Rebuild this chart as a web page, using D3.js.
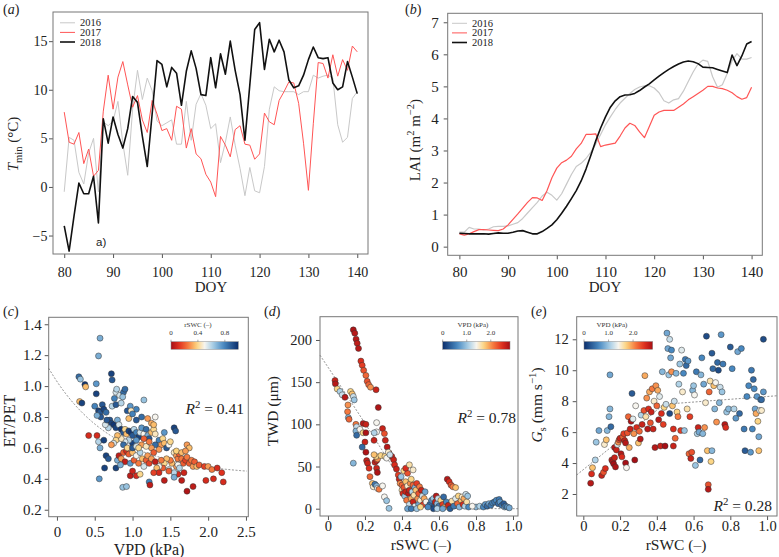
<!DOCTYPE html>
<html><head><meta charset="utf-8">
<script src="https://cdn.jsdelivr.net/npm/d3@7"></script>
<style>body{margin:0;background:#fff}</style>
</head><body>
<script>
// ---------------- DATA ----------------
const doy = d3.range(80, 141);
const tmin2016 = [-0.5,5.1,4.8,1.5,0.3,3.5,5.0,-0.5,6.7,6.3,6.8,8.8,4.5,1.2,8.0,12.0,9.0,11.2,9.9,6.8,6.3,6.6,6.9,4.4,4.4,8.8,4.8,8.5,9.6,8.4,6.0,6.5,2.5,4.6,7.2,4.3,1.9,-0.9,2.0,-0.4,-0.6,2.1,8.0,10.3,9.9,9.8,9.8,9.8,9.5,9.8,9.8,11.5,11.2,11.4,11.5,11.2,6.4,4.6,5.1,9.1,9.8];
const tmin2017 = [7.7,4.6,4.4,5.6,2.4,3.9,1.1,1.7,7.8,11.5,8.0,11.3,12.9,10.5,8.2,9.4,6.9,5.6,8.9,7.5,5.8,6.0,4.8,8.3,8.0,4.0,6.0,3.4,2.9,1.3,0.5,-1.0,5.2,4.3,3.1,5.9,6.3,4.4,4.3,2.85,3.4,7.6,6.7,6.4,8.9,9.8,10.8,10.7,8.6,4.5,-0.35,6.5,12.8,12.7,11.2,13.6,11.4,13.1,12.0,14.5,13.9];
const tmin2018 = [-4.0,-6.6,-3.0,0.4,-0.7,-0.7,1.1,-3.7,7.0,4.5,7.2,5.4,4.0,6.0,9.3,8.7,5.2,2.1,7.5,13.0,12.6,10.3,12.3,11.7,8.4,11.9,14.0,12.2,9.5,9.4,13.3,10.2,13.7,11.6,15.0,12.0,9.5,4.8,10.5,16.2,16.9,12.1,15.2,13.9,15.1,13.9,11.0,10.2,10.4,11.5,13.1,14.4,13.3,13.2,13.3,10.7,10.0,10.3,12.9,11.3,9.6];

const lai2016 = [0.45,0.45,0.60,0.55,0.55,0.52,0.55,0.62,0.63,0.63,0.65,0.70,0.75,0.88,1.05,1.22,1.38,1.58,1.70,1.60,1.45,1.65,1.95,2.25,2.50,2.60,2.75,2.95,3.20,3.50,3.80,4.05,4.28,4.48,4.63,4.78,4.90,4.98,5.02,5.02,4.95,4.80,4.55,4.48,4.58,4.62,4.85,5.15,5.45,5.70,5.82,5.78,5.30,4.97,5.05,5.40,5.80,6.02,5.85,5.85,5.90];
const lai2017 = [0.40,0.36,0.40,0.47,0.53,0.53,0.52,0.51,0.50,0.55,0.68,0.85,1.02,1.20,1.38,1.53,1.52,1.44,1.75,2.15,2.45,2.62,2.70,2.82,3.05,3.22,3.50,3.50,3.52,3.12,3.17,3.20,3.23,3.45,3.70,3.85,3.78,3.58,3.40,3.75,4.10,4.20,4.25,4.25,4.25,4.35,4.45,4.58,4.68,4.78,4.88,5.00,5.00,4.95,4.93,4.88,4.80,4.68,4.60,4.65,4.97];
const lai2018 = [0.42,0.41,0.40,0.40,0.40,0.40,0.39,0.41,0.43,0.42,0.42,0.45,0.49,0.50,0.45,0.40,0.40,0.47,0.57,0.68,0.84,1.04,1.26,1.50,1.75,2.05,2.42,2.85,3.30,3.70,4.05,4.35,4.55,4.68,4.73,4.74,4.78,4.87,4.98,5.08,5.20,5.32,5.43,5.53,5.62,5.70,5.76,5.79,5.77,5.71,5.60,5.59,5.58,5.53,5.48,5.43,5.98,5.65,5.95,6.32,6.40];

const years = ["2016","2017","2018"];

// panel c: [VPD, ET/PET, rSWC]
const ptsC = [[0.57,1.31,0.7],[0.55,1.195,0.7],
[0.29,1.06,0.85],[0.31,1.045,0.65],[0.37,1.01,0.98],[0.38,0.995,0.35],[0.30,0.90,0.35],[0.33,0.89,0.95],
[0.52,1.015,0.75],[0.52,0.95,0.95],[0.50,0.87,0.8],[0.55,0.84,0.95],[0.57,0.83,0.9],[0.60,0.88,0.9],[0.62,0.85,0.95],[0.58,0.80,0.9],[0.53,0.81,0.7],[0.65,0.83,0.85],
[0.72,1.08,0.95],[0.73,1.04,0.9],[0.76,0.92,0.8],[0.73,0.87,0.6],[0.78,0.88,0.9],[0.78,0.96,0.55],[0.79,0.98,0.6],[0.83,0.94,0.55],[0.88,0.96,0.85],[0.90,0.98,0.85],[0.87,0.93,0.65],[0.85,0.89,0.6],
[0.97,0.87,0.75],[1.05,0.85,0.8],[1.15,0.91,0.65],[0.93,0.84,0.9],[0.98,0.84,0.45],
[0.70,0.78,0.9],[0.72,0.76,0.95],[0.75,0.75,0.98],[0.78,0.73,0.95],[0.80,0.78,0.7],[0.82,0.75,0.55],[0.68,0.73,0.6],[0.64,0.75,0.55],[0.66,0.78,0.9],[0.85,0.72,0.98],[0.88,0.70,0.9],[0.90,0.72,0.4],[0.92,0.69,0.35],[0.95,0.71,0.95],[0.98,0.70,0.98],[1.00,0.68,0.9],[1.02,0.72,0.6],[1.05,0.70,0.8],[1.08,0.67,0.95],[1.10,0.70,0.55],[1.12,0.73,0.75],[1.15,0.69,0.5],[1.18,0.72,0.85],[1.20,0.68,0.7],[1.22,0.66,0.9],[1.25,0.70,0.35],[1.28,0.72,0.4],[1.30,0.69,0.45],[0.95,0.79,0.35],[1.00,0.82,0.8],[1.05,0.78,0.9],[1.12,0.80,0.85],[1.20,0.79,0.3],[1.25,0.76,0.32],[1.28,0.75,0.35],[1.30,0.80,0.5],[1.00,0.63,0.95],[1.05,0.65,0.75],[0.95,0.65,0.6],[0.90,0.64,0.55],[0.85,0.66,0.45],[0.80,0.68,0.35],[0.78,0.65,0.4],[0.75,0.63,0.55],[0.72,0.62,0.3],
[1.35,0.65,0.8],[1.38,0.62,0.3],[1.40,0.66,0.4],[1.42,0.63,0.35],[1.45,0.60,0.9],[1.48,0.62,0.5],[1.50,0.64,0.4],[1.35,0.59,0.3],[1.30,0.62,0.85],[1.25,0.60,0.3],[1.55,0.73,0.95],[1.57,0.71,0.9],[1.42,0.70,0.75],
[1.55,0.57,0.45],[1.58,0.55,0.3],[1.60,0.53,0.25],[1.62,0.56,0.2],[1.65,0.53,0.25],[1.67,0.50,0.2],[1.70,0.52,0.15],[1.72,0.54,0.25],[1.72,0.62,0.3],[1.75,0.60,0.35],[1.75,0.50,0.2],[1.78,0.52,0.25],[1.80,0.48,0.3],[1.82,0.51,0.2],[1.85,0.48,0.35],[1.88,0.49,0.2],[1.95,0.48,0.15],[2.00,0.48,0.3],[2.05,0.46,0.25],[2.12,0.47,0.1],[2.18,0.44,0.12],[2.20,0.38,0.1],[2.07,0.40,0.1],[1.97,0.39,0.1],[1.80,0.35,0.05],[1.72,0.32,0.02],[1.65,0.39,0.05],[1.60,0.43,0.1],[1.68,0.44,0.08],[1.58,0.48,0.3],[1.52,0.50,0.35],[1.50,0.52,0.25],[1.45,0.53,0.35],[1.42,0.50,0.4],[1.40,0.47,0.2],[1.35,0.48,0.5],[1.55,0.44,0.6],[1.55,0.41,0.7],[1.60,0.49,0.5],[1.62,0.47,0.6],[1.48,0.46,0.55],[1.58,0.58,0.38],[1.65,0.57,0.35],[1.70,0.58,0.3],
[0.42,0.68,0.1],[0.53,0.68,0.1],[0.55,0.64,0.6],[0.57,0.60,0.7],[0.62,0.65,0.95],[0.65,0.55,0.95],[0.68,0.53,0.9],[0.63,0.47,0.95],[0.56,0.40,0.75],[0.78,0.47,0.95],[0.80,0.52,0.7],[0.82,0.55,0.05],[0.85,0.53,0.3],[0.88,0.57,0.2],[0.90,0.51,0.05],[0.92,0.58,0.1],[0.95,0.56,0.2],[0.97,0.50,0.75],[1.00,0.57,0.35],[1.02,0.52,0.2],[1.05,0.55,0.5],[1.08,0.50,0.25],[1.10,0.57,0.6],[1.13,0.53,0.35],[1.15,0.48,0.55],[1.18,0.52,0.2],[1.20,0.55,0.3],[1.22,0.50,0.15],[1.25,0.53,0.3],[1.28,0.57,0.2],[1.30,0.51,0.05],[1.32,0.47,0.35],[1.35,0.44,0.1],[1.38,0.52,0.25],[0.97,0.42,0.05],[1.00,0.45,0.08],[1.05,0.42,0.1],[1.10,0.43,0.4],[1.22,0.38,0.8],[1.23,0.36,0.05],[1.28,0.44,0.15],[1.42,0.39,0.05],[1.48,0.45,0.2],[0.87,0.345,0.65],[0.92,0.35,0.65],[0.84,0.49,0.7],[0.88,0.62,0.85],[0.93,0.60,0.4],[1.00,0.60,0.9],[1.05,0.61,0.55],[1.12,0.62,0.3],[1.18,0.61,0.45],[1.22,0.64,0.25],[1.15,0.66,0.2],[1.08,0.60,0.4]];

// panel d: [rSWC, TWD, VPD]
const ptsD = [[0.137,212,2.75],[0.145,208,2.7],[0.152,201,2.7],[0.158,196,2.65],[0.165,190,2.7],[0.178,175,2.5],[0.185,170,2.4],[0.193,164,2.3],[0.205,158,2.2],[0.212,151,2.3],[0.22,147,2.2],[0.23,144,2.0],[0.26,141,2.6],[0.272,120,2.75],
[0.295,95,2.6],[0.305,89,2.3],[0.31,81,2.6],[0.32,73,2.7],[0.33,66,2.5],[0.345,62,2.6],[0.355,58,2.6],[0.36,52,2.5],[0.37,47,2.6],
[0.038,152,2.6],[0.04,148,2.7],[0.05,142,1.7],[0.065,139,1.1],[0.077,135,1.2],[0.092,132,2.7],[0.108,123,2.0],[0.106,115,2.1],[0.11,108,0.9],[0.114,106,2.2],[0.122,139,1.7],[0.131,136,1.8],[0.137,133,1.2],[0.142,129,1.0],[0.151,100,2.1],[0.155,97,1.2],[0.151,92,0.9],[0.155,87,0.4],[0.173,94,1.4],[0.19,101,2.7],[0.205,100,2.6],[0.19,90,1.7],[0.205,90,2.75],[0.2,79,2.6],[0.185,73,0.4],[0.205,67,2.75],[0.209,57,2.6],[0.214,54,2.6],[0.222,48,2.5],[0.227,38,2.2],[0.24,30,1.8],[0.245,26,1.5],[0.254,29,0.5],[0.263,27,0.9],[0.268,24,1.4],[0.276,23,2.1],[0.254,55,2.6],[0.263,57,2.6],[0.268,59,2.0],[0.26,62,1.7],[0.249,64,1.8],[0.263,48,2.6],[0.267,43,2.75],[0.249,81,2.6],[0.137,54,0.9],[0.263,102,1.4],[0.263,91,1.4],[0.25,90,1.1],[0.286,63,1.7],[0.308,62,1.7],[0.317,60,1.4],[0.295,27,1.4],[0.305,14,1.4],[0.317,9.5,1.0],[0.33,0.4,1.0],[0.326,67,1.5],[0.335,64,1.2],
[0.38,40,2.4],[0.385,35,2.6],[0.39,30,2.0],[0.395,38,1.0],[0.40,28,2.2],[0.40,22,1.6],[0.405,18,2.5],[0.41,25,2.3],[0.41,45,1.7],[0.415,15,1.0],[0.42,32,1.8],[0.42,20,2.6],[0.425,10,2.1],[0.43,27,1.5],[0.43,42,2.3],[0.435,18,2.7],[0.44,22,2.6],[0.44,5,1.2],[0.445,30,2.0],[0.45,12,1.9],[0.45,35,1.7],[0.455,20,1.1],[0.46,28,2.2],[0.46,8,2.6],[0.465,16,1.6],[0.47,25,0.9],[0.47,3,1.3],[0.475,22,1.8],[0.48,30,2.4],[0.485,12,2.0],[0.49,18,2.3],[0.49,5,0.8],[0.495,26,2.1],[0.5,10,1.5],[0.505,22,2.6],[0.51,15,1.2],[0.515,5,2.4],[0.52,12,1.9],[0.525,20,0.8],[0.53,8,1.4],[0.43,0,0.8],[0.45,0,0.5],[0.48,0,1.0],[0.50,2,1.7],[0.46,46,1.5],[0.42,48,2.5],[0.44,52,1.6],
[0.55,5,0.4],[0.56,10,0.6],[0.57,12,1.0],[0.575,3,0.3],[0.58,8,2.6],[0.585,15,2.7],[0.59,6,0.9],[0.595,12,1.2],[0.60,3,0.5],[0.61,10,1.7],[0.62,5,2.4],[0.625,14,0.4],[0.63,2,1.9],[0.64,8,0.6],[0.645,35,2.7],[0.655,32,2.5],[0.665,28,2.3],[0.675,26,2.1],[0.69,25,1.8],[0.65,4,2.6],[0.66,0,0.3],[0.67,9,1.6],[0.68,3,0.5],[0.69,12,1.3],[0.70,6,2.2],[0.705,15,1.7],[0.71,2,0.9],[0.72,10,1.8],[0.725,14,1.5],[0.73,5,2.5],[0.735,12,1.9],[0.74,3,1.1],[0.745,17,1.2],[0.75,8,1.6],[0.755,15,1.0],[0.76,2,0.6],[0.57,0,0.2],[0.54,2,0.6],[0.59,0,1.1],[0.62,0,0.8],
[0.80,2,0.9],[0.82,3,1.1],[0.84,2,0.6],[0.85,5,0.7],[0.86,3,0.4],[0.87,6,0.8],[0.88,4,0.5],[0.89,7,0.6],[0.90,8,0.5],[0.91,10,0.6],[0.92,6,0.4],[0.925,11,0.5],[0.93,8,0.7],[0.94,4,0.5],[0.95,6,0.3],[0.955,2,0.9],[0.96,3,0.5],[0.97,2,0.7],[0.98,1,0.8],[0.78,3,1.4]];

// panel e: [rSWC, Gs, VPD]
const ptsE = [[0.04,2.7,2.7],[0.045,3.3,2.5],[0.05,3.7,1.8],[0.065,4.2,1.1],[0.07,5.35,1.0],[0.085,6.1,0.8],[0.10,3.2,2.6],[0.11,3.4,2.3],[0.12,3.65,2.5],[0.115,5.2,1.5],[0.125,5.5,1.8],[0.13,6.1,0.9],[0.14,7.0,0.9],[0.145,7.5,0.9],[0.15,6.35,0.4],[0.145,9.7,0.8],[0.155,4.2,2.6],[0.16,4.1,2.7],[0.165,3.95,2.8],[0.17,4.35,2.6],[0.175,3.75,2.75],[0.17,5.0,2.7],[0.18,4.85,2.6],[0.185,5.2,1.3],[0.19,5.35,2.0],[0.195,5.5,2.3],[0.20,5.6,2.6],[0.205,4.6,2.7],[0.21,4.4,2.5],[0.215,5.7,2.2],[0.22,5.9,2.4],[0.225,5.45,2.6],[0.23,5.3,2.7],[0.23,4.0,2.8],[0.235,3.7,1.4],[0.24,5.95,2.3],[0.245,7.0,2.2],[0.25,5.0,1.9],[0.255,6.2,2.6],[0.26,6.7,2.75],[0.265,8.5,0.3],[0.27,6.85,1.3],[0.275,5.9,2.0],[0.28,4.2,2.8],[0.285,7.7,1.4],[0.29,6.3,2.5],[0.30,5.3,1.8],[0.305,6.05,2.2],[0.31,5.55,2.7],[0.315,7.1,1.1],[0.32,6.5,2.6],[0.33,7.4,2.3],[0.335,9.65,1.9],[0.34,7.0,1.6],[0.345,8.2,2.0],[0.35,6.2,2.7],[0.355,7.5,2.5],[0.36,8.6,1.9],[0.365,6.6,2.3],[0.37,7.3,2.6],[0.375,8.8,2.1],[0.38,6.2,2.6],[0.385,8.0,1.5],[0.39,5.0,2.7],[0.395,9.0,2.0],[0.40,7.7,2.2],[0.405,8.7,1.9],[0.41,6.8,2.7],[0.415,8.3,1.3],[0.42,5.1,2.6],[0.425,7.2,2.5],[0.43,9.9,0.9],[0.435,6.5,2.4],[0.44,7.6,1.7],[0.445,5.1,2.8],[0.45,7.8,1.2],[0.455,12.4,0.8],[0.46,11.4,0.8],[0.465,9.7,1.0],[0.47,7.2,0.2],[0.47,12.0,1.2],[0.475,10.8,0.8],[0.48,11.3,0.6],[0.48,9.9,2.0],[0.485,7.7,1.8],[0.49,6.2,2.5],[0.49,5.1,2.6],[0.495,8.0,1.2],[0.50,5.6,2.2],[0.505,9.8,0.9],[0.51,7.3,1.7],[0.515,7.0,2.1],[0.52,9.1,1.1],[0.525,10.4,1.0],[0.53,6.1,2.4],[0.535,11.3,1.3],[0.54,8.6,1.5],[0.545,9.8,0.6],[0.55,6.1,1.0],[0.555,10.7,0.5],[0.56,10.3,0.4],[0.565,7.5,1.6],[0.57,10.6,0.7],[0.575,4.6,2.2],[0.58,7.0,2.4],[0.585,4.3,2.6],[0.59,4.7,2.3],[0.595,8.7,0.9],[0.60,9.0,1.0],[0.605,8.4,1.4],[0.61,3.85,1.0],[0.615,9.9,0.5],[0.62,5.9,1.1],[0.625,6.3,2.6],[0.63,6.0,0.8],[0.635,4.2,0.4],[0.64,9.7,0.9],[0.645,10.8,0.6],[0.65,5.9,0.9],[0.655,9.1,0.8],[0.66,6.3,2.0],[0.665,7.9,1.5],[0.67,12.2,0.2],[0.675,4.8,1.8],[0.68,2.6,2.3],[0.68,2.3,2.7],[0.685,8.6,2.2],[0.69,9.3,1.6],[0.695,4.1,1.7],[0.70,4.8,0.9],[0.70,11.1,0.3],[0.705,10.1,0.4],[0.71,9.0,1.8],[0.715,7.5,0.9],[0.72,9.2,1.4],[0.725,6.65,2.0],[0.73,10.5,0.4],[0.735,10.0,0.2],[0.74,7.9,0.9],[0.745,8.9,1.2],[0.75,12.3,0.7],[0.755,8.6,1.0],[0.76,10.4,0.5],[0.77,6.5,2.7],[0.775,6.3,2.5],[0.78,7.3,1.0],[0.79,7.5,0.9],[0.80,11.5,0.3],[0.81,10.1,0.6],[0.82,7.5,1.1],[0.83,6.9,0.7],[0.84,11.2,0.8],[0.85,7.2,0.4],[0.86,11.4,0.6],[0.875,6.2,0.5],[0.88,4.8,0.3],[0.89,8.3,0.6],[0.90,9.0,0.6],[0.91,4.7,0.7],[0.915,10.0,0.5],[0.92,6.2,0.6],[0.925,9.4,0.4],[0.93,8.8,0.6],[0.935,7.5,0.8],[0.94,7.2,1.9],[0.945,8.3,0.7],[0.95,6.7,1.7],[0.955,5.7,0.8],[0.955,4.8,1.8],[0.96,7.4,1.3],[0.965,8.1,0.6],[0.97,8.1,0.4],[0.98,8.6,0.7],[0.98,12.0,0.2],[0.97,7.4,1.5]];

// fitted curves
const fitC = {a: 0.42, b: 0.61, k: 1.2};            // ET/PET = a + b*exp(-k*VPD)
const fitD = [[-0.043,182],[0.37,42],[0.45,13],[0.52,3],[0.6,0.5],[1.027,0]];
const fitE = [[-0.036,3.23],[0.44,7.8],[1.054,8.35]];
const r2 = {c: "0.41", d: "0.78", e: "0.28"};

// ---------------- DRAW ----------------
const SERIF = "'Liberation Serif', 'Times New Roman', serif";
const svg = d3.select("body").append("svg").attr("width", 779).attr("height", 557);

const cmap = d3.scaleLinear()
  .domain([0, 0.12, 0.25, 0.38, 0.5, 0.62, 0.78, 1])
  .range(["#a50f15","#e0301e","#f5793f","#fdd27a","#f7f5ef","#a9cfe6","#4a8ac2","#0b2e6b"])
  .clamp(true);
const vpdColor = v => cmap(1 - v / 2.8);

function rich(t, parts, fs) {
  let cur = 0;
  parts.forEach(p => {
    const off = p.sup ? -0.38 * fs : p.sub ? 0.28 * fs : 0;
    const ts = t.append("tspan").text(p.t).attr("dy", off - cur);
    cur = off;
    if (p.sup || p.sub) ts.attr("font-size", fs * 0.7);
    if (p.it) ts.attr("font-style", "italic");
  });
}

function panel(o) {
  const x = d3.scaleLinear().domain(o.xd).range([o.l, o.r]);
  const y = d3.scaleLinear().domain(o.yd).range([o.b, o.t]);
  const gx = svg.append("g").attr("transform", `translate(0,${o.b})`)
    .call(d3.axisBottom(x).tickValues(o.xt).tickSize(4).tickPadding(o.xpad).tickFormat(o.xf || (d => d)));
  const gy = svg.append("g").attr("transform", `translate(${o.l},0)`)
    .call(d3.axisLeft(y).tickValues(o.yt).tickSize(4).tickPadding(o.ypad).tickFormat(o.yf || (d => d)));
  [gx, gy].forEach(g => {
    g.select(".domain").remove();
    g.selectAll("line").attr("stroke", "#555");
    g.selectAll("text").attr("font-family", SERIF).attr("font-size", o.fs).attr("fill", "#222");
  });
  svg.append("rect").attr("x", o.l).attr("y", o.t).attr("width", o.r - o.l).attr("height", o.b - o.t)
    .attr("fill", "none").attr("stroke", "#777").attr("stroke-width", 1);
  const xl = svg.append("text").attr("x", o.xlx).attr("y", o.xly).attr("text-anchor", "middle")
    .attr("font-family", SERIF).attr("font-size", o.lfs).attr("fill", "#222");
  rich(xl, o.xlab, o.lfs);
  const yl = svg.append("text").attr("transform", `translate(${o.ylx},${o.yly}) rotate(-90)`)
    .attr("text-anchor", "middle").attr("font-family", SERIF).attr("font-size", o.lfs).attr("fill", "#222");
  rich(yl, o.ylab, o.lfs);
  const pl = svg.append("text").attr("x", o.px).attr("y", o.py).attr("font-family", SERIF)
    .attr("font-size", 14).attr("fill", "#222");
  rich(pl, [{t: "("}, {t: o.letter, it: true}, {t: ")"}], 14);
  return {x, y};
}

const minus = d => d < 0 ? "\u2212" + Math.abs(d) : "" + d;
const f1 = d => d === 0 ? "0" : d.toFixed(1);

// ---- Panel a
const pa = panel({l: 53, r: 368, t: 12, b: 254, xd: [77.7, 142.2], yd: [-6.9, 18.0],
  xt: [80,90,100,110,120,130,140], yt: [-5,0,5,10,15], yf: minus, xpad: 9, ypad: 1.5, fs: 14, lfs: 15,
  xlx: 211, xly: 292, ylx: 18, yly: 144, px: 3, py: 14, letter: "a",
  xlab: [{t: "DOY"}], ylab: [{t: "T", it: true}, {t: "min", sub: true}, {t: " (°C)"}]});
const colors = {"2016": "#c8c8c8", "2017": "#ff5555", "2018": "#111111"};
const widthsA = {"2016": 1, "2017": 1, "2018": 1.6};
const tminSeries = {"2016": tmin2016, "2017": tmin2017, "2018": tmin2018};
const lineA = d3.line().x((d, i) => pa.x(doy[i])).y(d => pa.y(d));
years.forEach(yr => {
  svg.append("path").datum(tminSeries[yr]).attr("d", lineA).attr("fill", "none")
    .attr("stroke", colors[yr]).attr("stroke-width", widthsA[yr]).attr("stroke-linejoin", "round");
});
svg.append("text").attr("x", 96).attr("y", 246).attr("font-family", "'Liberation Sans', Arial, sans-serif")
  .attr("font-size", 11.5).attr("fill", "#222").text("a)");

function legend(x0, y0) {
  years.forEach((yr, i) => {
    const yy = y0 + i * 9.6;
    svg.append("line").attr("x1", x0).attr("x2", x0 + 15).attr("y1", yy).attr("y2", yy)
      .attr("stroke", colors[yr]).attr("stroke-width", yr === "2018" ? 1.6 : 1);
    svg.append("text").attr("x", x0 + 20).attr("y", yy + 3.5).attr("font-family", SERIF)
      .attr("font-size", 10.5).attr("fill", "#222").text(yr);
  });
}
legend(60, 22.8);

// ---- Panel b
const pb = panel({l: 447.7, r: 762.3, t: 13.3, b: 255.3, xd: [77.6, 142.2], yd: [-0.27, 7.28],
  xt: [80,90,100,110,120,130,140], yt: [0,1,2,3,4,5,6,7], xpad: 7.5, ypad: 5, fs: 15, lfs: 15,
  xlx: 605, xly: 292, ylx: 420, yly: 140, px: 405, py: 14, letter: "b",
  xlab: [{t: "DOY"}], ylab: [{t: "LAI (m"}, {t: "2", sup: true}, {t: " m"}, {t: "\u22122", sup: true}, {t: ")"}]});
const laiSeries = {"2016": lai2016, "2017": lai2017, "2018": lai2018};
const widthsB = {"2016": 1.2, "2017": 1.2, "2018": 1.6};
const lineB = d3.line().x((d, i) => pb.x(doy[i])).y(d => pb.y(d));
years.forEach(yr => {
  svg.append("path").datum(laiSeries[yr]).attr("d", lineB).attr("fill", "none")
    .attr("stroke", colors[yr]).attr("stroke-width", widthsB[yr]).attr("stroke-linejoin", "round");
});
legend(452, 23.3);

// ---- scatter helpers
function dots(p, pts, colorFn) {
  svg.append("g").selectAll("circle").data(pts).join("circle")
    .attr("cx", d => p.x(d[0])).attr("cy", d => p.y(d[1])).attr("r", 3)
    .attr("fill", d => colorFn(d[2])).attr("stroke", "#333").attr("stroke-width", 0.5);
}
function fitPath(p, pts, curve) {
  svg.append("path").datum(pts).attr("d", d3.line().x(d => p.x(d[0])).y(d => p.y(d[1])).curve(curve))
    .attr("fill", "none").attr("stroke", "#777").attr("stroke-width", 0.8).attr("stroke-dasharray", "2,1.6");
}
function r2text(x, y, val) {
  const t = svg.append("text").attr("x", x).attr("y", y).attr("text-anchor", "end")
    .attr("font-family", SERIF).attr("font-size", 15.5).attr("fill", "#222");
  rich(t, [{t: "R", it: true}, {t: "2", sup: true}, {t: " = " + val}], 15.5);
}
let gid = 0;
function cbar(x0, x1, y0, y1, maxV, colorFn, ticks, tickLab, title, tx) {
  const id = "g" + (gid++);
  const grad = svg.append("defs").append("linearGradient").attr("id", id);
  d3.range(0, 1.0001, 0.05).forEach(t => grad.append("stop").attr("offset", t).attr("stop-color", colorFn(t * maxV)));
  svg.append("rect").attr("x", x0).attr("y", y0).attr("width", x1 - x0).attr("height", y1 - y0)
    .attr("fill", `url(#${id})`).attr("stroke", "#888").attr("stroke-width", 0.5);
  const s = d3.scaleLinear().domain([0, maxV]).range([x0, x1]);
  ticks.forEach((v, i) => {
    svg.append("line").attr("x1", s(v)).attr("x2", s(v)).attr("y1", y0 - 2).attr("y2", y0).attr("stroke", "#555").attr("stroke-width", 0.5);
    svg.append("text").attr("x", s(v)).attr("y", y0 - 6.5).attr("text-anchor", "middle")
      .attr("font-family", SERIF).attr("font-size", 7).attr("fill", "#333").text(tickLab[i]);
  });
  svg.append("text").attr("x", tx).attr("y", y0 - 15).attr("text-anchor", "middle")
    .attr("font-family", SERIF).attr("font-size", 7).attr("fill", "#333").text(title);
}

// ---- Panel c
const pc = panel({l: 48.7, r: 248.3, t: 317.3, b: 516.7, xd: [-0.109, 2.531], yd: [0.155, 1.445],
  xt: [0,0.5,1,1.5,2,2.5], yt: [0.2,0.4,0.6,0.8,1.0,1.2,1.4], xf: f1, yf: d => d.toFixed(1),
  xpad: 6, ypad: 3, fs: 15, lfs: 16,
  xlx: 149, xly: 555, ylx: 15, yly: 421, px: 3, py: 316, letter: "c",
  xlab: [{t: "VPD (kPa)"}], ylab: [{t: "ET/PET"}]});
fitPath(pc, d3.range(-0.109, 2.531, 0.02).map(v => [v, fitC.a + fitC.b * Math.exp(-fitC.k * v)]), d3.curveLinear);
dots(pc, ptsC, cmap);
r2text(244, 414, r2.c);
cbar(171, 238.3, 341.7, 349.3, 1, cmap, [0, 0.4, 0.8], ["0", "0.4", "0.8"], "rSWC (\u2013)", 198);

// ---- Panel d
const pd = panel({l: 320, r: 518, t: 316.7, b: 516, xd: [-0.043, 1.027], yd: [-8.65, 227.6],
  xt: [0,0.2,0.4,0.6,0.8,1.0], yt: [0,50,100,150,200], xf: f1,
  xpad: 0.5, ypad: 4, fs: 14.5, lfs: 15.5,
  xlx: 421, xly: 550, ylx: 278, yly: 411, px: 264, py: 316, letter: "d",
  xlab: [{t: "rSWC (\u2013)"}], ylab: [{t: "TWD (\u03bcm)"}]});
fitPath(pd, fitD, d3.curveMonotoneX);
dots(pd, ptsD, vpdColor);
r2text(516, 423, r2.d);
cbar(442.7, 510, 341.5, 349.3, 2.8, vpdColor, [0, 1, 2], ["0", "1.0", "2.0"], "VPD (kPa)", 473);

// ---- Panel e
const pe = panel({l: 576.7, r: 777, t: 316.7, b: 516, xd: [-0.036, 1.054], yd: [0.578, 13.46],
  xt: [0,0.2,0.4,0.6,0.8,1.0], yt: [2,4,6,8,10,12], xf: f1,
  xpad: 0.5, ypad: 4, fs: 14.5, lfs: 15.5,
  xlx: 676, xly: 550, ylx: 542, yly: 405, px: 531, py: 316, letter: "e",
  xlab: [{t: "rSWC (\u2013)"}], ylab: [{t: "G", it: true}, {t: "s", sub: true}, {t: " (mm s"}, {t: "\u22121", sup: true}, {t: ")"}]});
fitPath(pe, fitE, d3.curveLinear);
dots(pe, ptsE, vpdColor);
r2text(772, 511, r2.e);
cbar(584, 652.7, 341.5, 349.3, 2.8, vpdColor, [0, 1, 2], ["0", "1.0", "2.0"], "VPD (kPa)", 612);
</script>
</body></html>
